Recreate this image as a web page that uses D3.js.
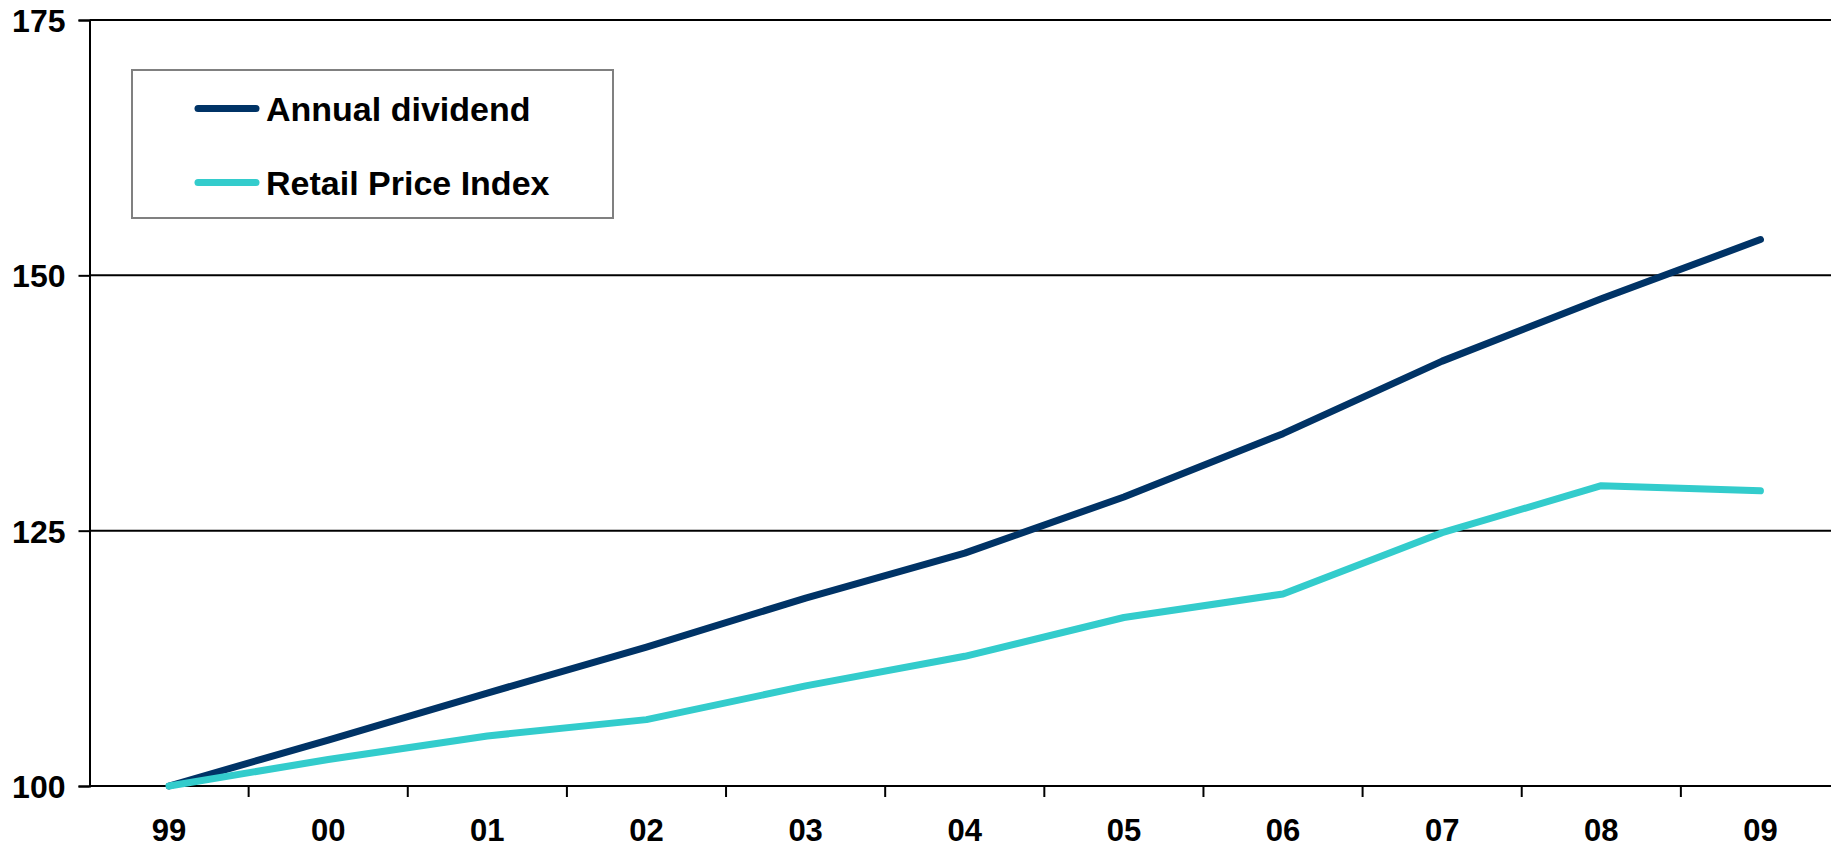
<!DOCTYPE html>
<html>
<head>
<meta charset="utf-8">
<script src="https://cdn.jsdelivr.net/npm/d3@7/dist/d3.min.js"></script>
<style>
  html, body { margin: 0; padding: 0; background: #fff; }
  svg { display: block; }
  text { font-family: "Liberation Sans", Arial, sans-serif; font-weight: bold; fill: #000; }
</style>
</head>
<body>
<svg id="chart" width="1831" height="847"></svg>
<script>
const years = ["99","00","01","02","03","04","05","06","07","08","09"];
const annualDividend = [100, 104.5, 109.1, 113.6, 118.4, 122.8, 128.3, 134.5, 141.6, 147.7, 153.5];
const retailPriceIndex = [100, 102.6, 104.9, 106.5, 109.8, 112.7, 116.5, 118.8, 124.8, 129.4, 128.9];
const yTicks = [100, 125, 150, 175];
const seriesNames = ["Annual dividend", "Retail Price Index"];
const seriesColors = ["#003366", "#33CCCC"];

const svg = d3.select("#chart");
const W = 1831;

const x = d3.scaleBand().domain(years).range([89.5, 1840]).padding(0);
const y = d3.scaleLinear().domain([100, 175]).range([786, 20]);

// gridlines
svg.append("g").selectAll("line").data(yTicks.filter(d => d !== 100)).join("line")
  .attr("x1", 89.5).attr("x2", W)
  .attr("y1", d => y(d)).attr("y2", d => y(d))
  .attr("stroke", "#000").attr("stroke-width", 2);

// y axis
const yAxis = svg.append("g").attr("transform", "translate(89.5,0)")
  .call(d3.axisLeft(y).tickValues(yTicks).tickSize(11).tickPadding(13).tickFormat(d3.format("d")));
yAxis.select(".domain").attr("stroke", "#000").attr("stroke-width", 2);
yAxis.selectAll(".tick line").attr("stroke", "#000").attr("stroke-width", 2);
yAxis.selectAll(".tick text").style("font-size", "32px").attr("dy", "0.36em")
  .style("font-family", '"Liberation Sans", Arial, sans-serif').style("font-weight", "bold");

// x axis labels
const xAxis = svg.append("g").attr("transform", "translate(0,786)")
  .call(d3.axisBottom(x).tickSize(0).tickPadding(33));
xAxis.select(".domain").remove();
xAxis.selectAll(".tick text").style("font-size", "31px").attr("dy", "0.71em")
  .style("font-family", '"Liberation Sans", Arial, sans-serif').style("font-weight", "bold");

// x axis line and boundary ticks
svg.append("line").attr("x1", 89.5).attr("x2", W).attr("y1", 786).attr("y2", 786)
  .attr("stroke", "#000").attr("stroke-width", 2);
const bounds = years.map(d => x(d)).concat([x.range()[1]]);
svg.append("g").selectAll("line").data(bounds.slice(1)).join("line")
  .attr("x1", d => d).attr("x2", d => d).attr("y1", 786).attr("y2", 797)
  .attr("stroke", "#000").attr("stroke-width", 2);

// lines
const line = d3.line().x((d, i) => x(years[i]) + x.bandwidth() / 2).y(d => y(d));
[annualDividend, retailPriceIndex].forEach((s, i) => {
  svg.append("path").datum(s).attr("d", line)
    .attr("fill", "none").attr("stroke", seriesColors[i]).attr("stroke-width", 7)
    .attr("stroke-linecap", "round").attr("stroke-linejoin", "round");
});

// legend
const lg = svg.append("g");
lg.append("rect").attr("x", 132).attr("y", 70).attr("width", 481).attr("height", 148)
  .attr("fill", "#fff").attr("stroke", "#808080").attr("stroke-width", 2);
seriesNames.forEach((n, i) => {
  const yy = [108.5, 182.5][i];
  lg.append("line").attr("x1", 198).attr("x2", 256).attr("y1", yy).attr("y2", yy)
    .attr("stroke", seriesColors[i]).attr("stroke-width", 7).attr("stroke-linecap", "round");
  lg.append("text").attr("x", 266).attr("y", yy + 12.5).style("font-size", "34px").text(n);
});
</script>
</body>
</html>
